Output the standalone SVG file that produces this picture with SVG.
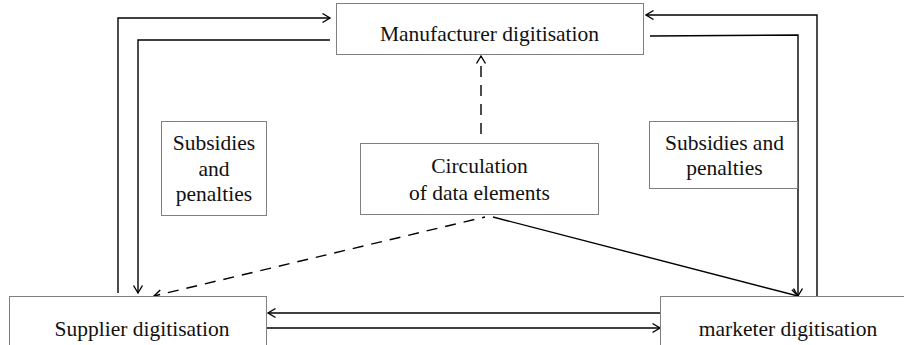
<svg xmlns="http://www.w3.org/2000/svg" width="904" height="345" viewBox="0 0 904 345">
  <style>
    .box { fill: #fff; stroke: #808080; stroke-width: 1; }
    .lbl { font-family: "Liberation Serif", "Times New Roman", serif; font-size: 21.5px; fill: #111; text-anchor: middle; }
    .ln { fill: none; stroke: #000; stroke-width: 1.4; marker-end: url(#arr); }
    .dash { stroke-dasharray: 11 8; }
    .head { fill: none; stroke: #000; stroke-width: 1.4; stroke-dasharray: none; }
  </style>
  <defs>
    <marker id="arr" markerWidth="12" markerHeight="12" refX="10" refY="6" orient="auto" markerUnits="userSpaceOnUse">
      <path class="head" d="M2.5,1.5 L10,6 L2.5,10.5"/>
    </marker>
  </defs>
  <rect width="904" height="345" fill="#fff"/>

  <g id="connectors">
    <!-- manufacturer loop, left side -->
    <polyline class="ln" points="118,293 118,18 330,18"/>
    <polyline class="ln" points="330,40 138,40 138,293"/>
    <!-- manufacturer loop, right side -->
    <polyline class="ln" points="817,296 817,15 646,15"/>
    <polyline class="ln" points="650,36 798,35 798,296"/>
    <!-- data element flows -->
    <line class="ln dash" x1="481" y1="134" x2="481" y2="56"/>
    <line class="ln dash" x1="485" y1="217" x2="154" y2="296" stroke-dashoffset="8"/>
    <line class="ln" x1="493" y1="217" x2="798" y2="296"/>
    <!-- supplier / marketer exchange -->
    <line class="ln" x1="660" y1="313" x2="268" y2="313"/>
    <line class="ln" x1="267" y1="328" x2="660" y2="328"/>
  </g>

  <g id="manufacturer">
    <rect class="box" x="336.5" y="3.5" width="307" height="51"/>
    <text class="lbl" x="489.5" y="41">Manufacturer digitisation</text>
  </g>

  <g id="circulation">
    <rect class="box" x="360.5" y="143.5" width="238" height="71"/>
    <text class="lbl" x="479.5" y="173">Circulation</text>
    <text class="lbl" x="479.5" y="200">of data elements</text>
  </g>

  <g id="subsidies-left">
    <rect class="box" x="161.5" y="121.5" width="105" height="94"/>
    <text class="lbl" x="214" y="150">Subsidies</text>
    <text class="lbl" x="214" y="176">and</text>
    <text class="lbl" x="214" y="201">penalties</text>
  </g>

  <g id="subsidies-right">
    <rect class="box" x="649.5" y="121.5" width="148" height="67"/>
    <text class="lbl" x="724.5" y="150">Subsidies and</text>
    <text class="lbl" x="724.5" y="175">penalties</text>
  </g>

  <g id="supplier">
    <rect class="box" x="9.5" y="296.5" width="257" height="60"/>
    <text class="lbl" x="142" y="336">Supplier digitisation</text>
  </g>

  <g id="marketer">
    <rect class="box" x="660.5" y="296.5" width="260" height="60"/>
    <text class="lbl" x="788" y="336">marketer digitisation</text>
  </g>
</svg>
